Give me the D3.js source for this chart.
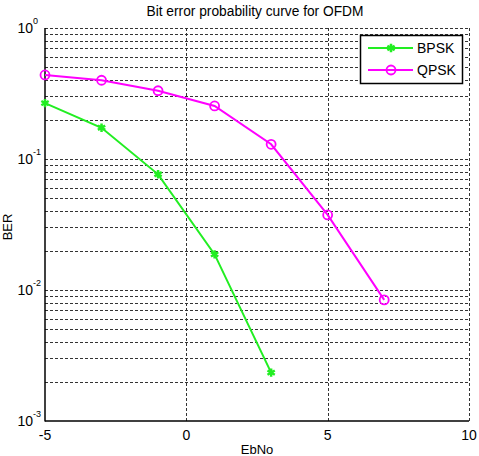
<!DOCTYPE html>
<html><head><meta charset="utf-8">
<script src="https://cdn.jsdelivr.net/npm/d3@7"></script>
<style>body{margin:0;background:#fff;}svg{display:block;font-family:"Liberation Sans",Arial,sans-serif;}</style>
</head><body>
<svg id="c" width="479" height="456"></svg>
<script>
const ebno = [-5, -3, -1, 1, 3, 5, 7];
const bpsk = [0.267, 0.173, 0.0764, 0.0187, 0.00234];
const qpsk = [0.438, 0.399, 0.332, 0.254, 0.1295, 0.0374, 0.0084];
const xTicks = [-5, 0, 5, 10];
const yTicks = [1e-3, 1e-2, 1e-1, 1];
const yExp = ["-3", "-2", "-1", "0"];
const seriesNames = ["BPSK", "QPSK"];

const svg = d3.select("#c");
const L = 45, R = 469, T = 28, B = 421;
const x = d3.scaleLinear().domain([-5, 10]).range([L, R]);
const y = d3.scaleLog().domain([1e-3, 1]).range([B, T]);

// grid
const grid = svg.append("g").attr("stroke", "#333").attr("stroke-width", 1).attr("stroke-dasharray", "3,2");
const yg = [];
for (let d = -3; d < 0; d++) for (let m = 1; m <= 9; m++) yg.push(m * Math.pow(10, d));
yg.push(1);
yg.filter(v => v > 1.0001e-3).forEach(v => {
  grid.append("line").attr("x1", L).attr("x2", R).attr("y1", Math.round(y(v)) + 0.5).attr("y2", Math.round(y(v)) + 0.5);
});
xTicks.filter(v => v > -5).forEach(v => {
  grid.append("line").attr("y1", T).attr("y2", B).attr("x1", Math.round(x(v)) + 0.5).attr("x2", Math.round(x(v)) + 0.5);
});

// axes lines
svg.append("line").attr("x1", L).attr("x2", L).attr("y1", T).attr("y2", B + 0.5).attr("stroke", "#000").attr("stroke-width", 1.5);
svg.append("line").attr("x1", L).attr("x2", R).attr("y1", B).attr("y2", B).attr("stroke", "#000").attr("stroke-width", 1.5);

// y tick labels
yTicks.forEach((v, i) => {
  svg.append("text").attr("x", 33).attr("y", y(v) + 5).attr("text-anchor", "end").attr("font-size", 14).attr("fill", "#000").text("10");
  svg.append("text").attr("x", 33).attr("y", y(v) - 4).attr("font-size", 9).attr("fill", "#000").text(yExp[i]);
});
// x tick labels
xTicks.forEach(v => {
  svg.append("text").attr("x", x(v)).attr("y", 440).attr("text-anchor", "middle").attr("font-size", 14).attr("fill", "#000").text(v);
});

// labels
svg.append("text").attr("x", 255).attr("y", 16).attr("text-anchor", "middle").attr("font-size", 14).attr("textLength", 217).attr("lengthAdjust", "spacingAndGlyphs").attr("fill", "#000").text("Bit error probability curve for OFDM");
svg.append("text").attr("x", 257).attr("y", 454).attr("text-anchor", "middle").attr("font-size", 13).attr("fill", "#000").text("EbNo");
svg.append("text").attr("transform", "translate(12,227) rotate(-90)").attr("text-anchor", "middle").attr("font-size", 13).attr("fill", "#000").text("BER");

const line = d3.line().x(d => x(d[0])).y(d => y(d[1]));
const colors = ["#22ee22", "#ff00ff"];
const bData = bpsk.map((v, i) => [ebno[i], v]);
const qData = qpsk.map((v, i) => [ebno[i], v]);

svg.append("path").datum(bData).attr("d", line).attr("fill", "none").attr("stroke", colors[0]).attr("stroke-width", 2);
svg.append("path").datum(qData).attr("d", line).attr("fill", "none").attr("stroke", colors[1]).attr("stroke-width", 2);

const ast = d3.symbol().type(d3.symbolAsterisk).size(50);
svg.selectAll(".bm").data(bData).join("path").attr("transform", d => `translate(${x(d[0])},${y(d[1])})`).attr("d", ast).attr("fill", "none").attr("stroke", colors[0]).attr("stroke-width", 2.5);
svg.selectAll(".qm").data(qData).join("circle").attr("cx", d => x(d[0])).attr("cy", d => y(d[1])).attr("r", 4.5).attr("fill", "none").attr("stroke", colors[1]).attr("stroke-width", 1.8);

// legend
const lg = svg.append("g");
lg.append("rect").attr("x", 360.5).attr("y", 35.5).attr("width", 102).attr("height", 48).attr("fill", "#fff").attr("stroke", "#000").attr("stroke-width", 1.5);
[48, 70].forEach((ly, i) => {
  lg.append("line").attr("x1", 368).attr("x2", 413).attr("y1", ly).attr("y2", ly).attr("stroke", colors[i]).attr("stroke-width", 2);
  if (i === 0) lg.append("path").attr("transform", `translate(391,${ly})`).attr("d", ast).attr("stroke", colors[0]).attr("stroke-width", 2.5).attr("fill", "none");
  else lg.append("circle").attr("cx", 391).attr("cy", ly).attr("r", 4.5).attr("fill", "none").attr("stroke", colors[1]).attr("stroke-width", 1.8);
  lg.append("text").attr("x", 417).attr("y", ly + 5).attr("font-size", 14).attr("fill", "#000").text(seriesNames[i]);
});
</script>
</body></html>
